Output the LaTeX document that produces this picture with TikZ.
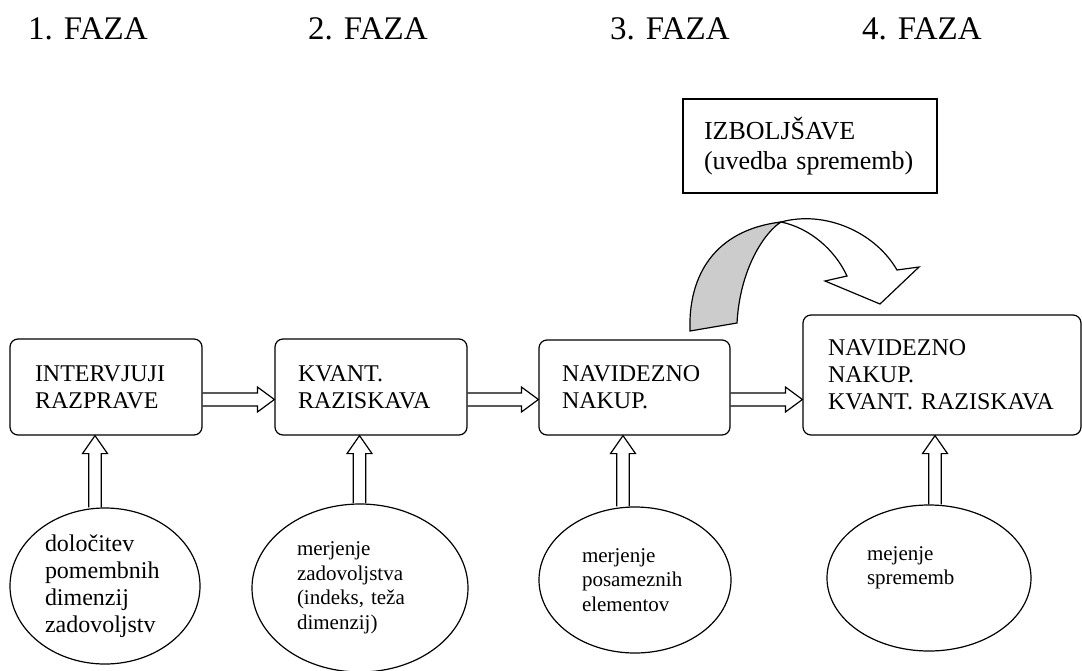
\documentclass[tikz,border=0pt]{standalone}
\usepackage{fontspec}
\setmainfont{Liberation Serif}
\usetikzlibrary{shapes.geometric,calc}
\tikzstyle{stage}=[draw, rounded corners=8pt, line width=1.2pt, inner sep=0pt, align=left, font=\fontsize{24}{27}\selectfont]
\newcommand{\stage}{\node[stage]}
\tikzstyle{measure}=[ellipse, draw, line width=1.2pt, inner sep=0pt, align=left, font=\fontsize{21}{24.5}\selectfont]
\newcommand{\measure}{\node[measure]}
\tikzstyle{faza}=[anchor=base west, inner sep=0pt, font=\fontsize{33}{38}\selectfont]
\tikzstyle{hollow}=[draw, line width=1.2pt, line join=miter]
% hollow block arrows, from #1 to #2
\newcommand{\pushright}[2]{\draw[hollow] let \p1=(#1), \p2=(#2) in
  (\x1,\y1+6.5pt) -- (\x2-17pt,\y1+6.5pt) -- (\x2-17pt,\y1+12.5pt) -- (\x2,\y1)
  -- (\x2-17pt,\y1-12.5pt) -- (\x2-17pt,\y1-6.5pt) -- (\x1,\y1-6.5pt);}
\newcommand{\pushup}[2]{\draw[hollow] let \p1=(#1), \p2=(#2) in
  (\x1-6.25pt,\y1) -- (\x1-6.25pt,\y2-18pt) -- (\x1-12.5pt,\y2-18pt) -- (\x1,\y2)
  -- (\x1+12.5pt,\y2-18pt) -- (\x1+6.25pt,\y2-18pt) -- (\x1+6.25pt,\y1);}

\begin{document}
\begin{tikzpicture}[x=1pt, y=1pt]
            \useasboundingbox (0,0) rectangle (1082,-670);

            % phases
            \node[faza] (f1) at (28,-39) {1. FAZA};
            \node[faza] (f2) at (308,-39) {2. FAZA};
            \node[faza] (f3) at (610,-39) {3. FAZA};
            \node[faza] (f4) at (862,-39) {4. FAZA};

            % boxes
            \stage[minimum width=192pt, minimum height=96pt, text width=142pt] (interv) at (106,-387) {INTERVJUJI\\RAZPRAVE};
            \stage[minimum width=192pt, minimum height=96pt, text width=146pt] (kvant) at (371,-387) {KVANT.\\RAZISKAVA};
            \stage[minimum width=191pt, minimum height=95pt, text width=145pt] (nakup) at (634.5,-387.5) {NAVIDEZNO\\NAKUP.};
            \stage[minimum width=278pt, minimum height=120pt, text width=228pt] (oboje) at (942,-375) {NAVIDEZNO\\NAKUP.\\KVANT.~RAZISKAVA};
            \node[draw, line width=1.2pt, inner sep=0pt, align=left, minimum width=254pt, minimum height=94pt, text width=212pt,
                  font=\fontsize{26}{30}\selectfont] (izb) at (810,-146) {IZBOLJŠAVE\\(uvedba sprememb)};

            % ellipses
            \measure[minimum width=190pt, minimum height=156pt, text width=120pt, font=\fontsize{24}{27}\selectfont] (dim) at (105,-586) {določitev\\pomembnih\\dimenzij\\zadovoljstv};
            \measure[minimum width=216pt, minimum height=168pt, text width=126pt] (zad) at (360,-588) {merjenje\\zadovoljstva\\(indeks, teža\\dimenzij)};
            \measure[minimum width=192pt, minimum height=146pt, text width=106pt] (pos) at (635,-580) {merjenje\\posameznih\\elementov};
            \measure[minimum width=204pt, minimum height=146pt, text width=124pt] (spr) at (929,-578) {mejenje\\sprememb\\\mbox{}};

            % arrows
            \coordinate (ay) at (0,-399.5);
            \coordinate (ax1) at (95,0);
            \coordinate (ax2) at (359.5,0);
            \coordinate (ax3) at (623,0);
            \coordinate (ax4) at (935,0);
            \pushright{interv.east |- ay}{kvant.west |- ay}
            \pushright{kvant.east |- ay}{nakup.west |- ay}
            \pushright{nakup.east |- ay}{oboje.west |- ay}
            \pushup{dim.north -| ax1}{interv.south -| ax1}
            \pushup{zad.north -| ax2}{kvant.south -| ax2}
            \pushup{pos.north -| ax3}{nakup.south -| ax3}
            \pushup{spr.north -| ax4}{oboje.south -| ax4}

            % curved arrow
            \draw[hollow, fill=black!20] (690,-331) .. controls (688,-275) and (715,-230) .. (781,-222)
              .. controls (765,-232) and (740,-268) .. (737,-323) -- cycle;
            \draw[hollow, fill=white] (781,-222) .. controls (825,-210) and (875,-232) .. (897,-270)
              -- (919,-267) -- (880,-304) -- (825,-281) -- (847,-276)
              .. controls (835,-250) and (810,-228) .. (781,-222) -- cycle;
\end{tikzpicture}
\end{document}
